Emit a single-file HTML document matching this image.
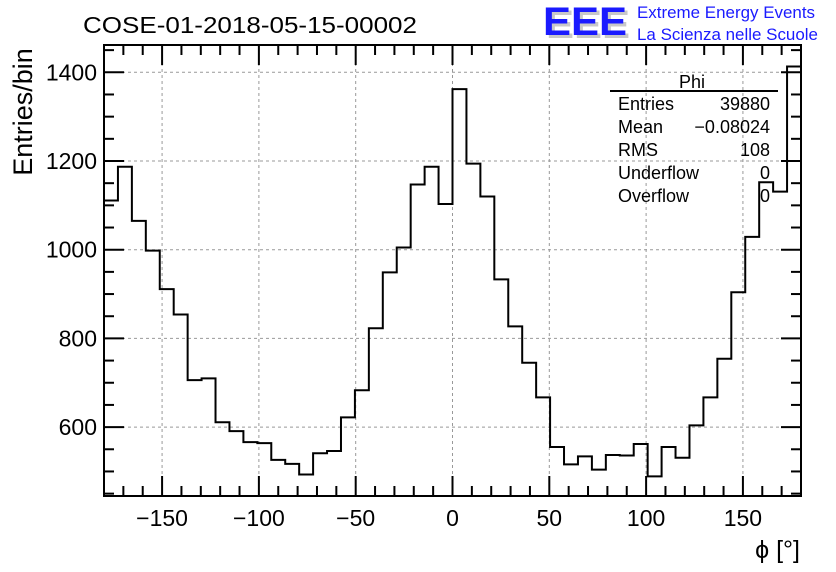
<!DOCTYPE html>
<html><head><meta charset="utf-8">
<style>
html,body{margin:0;padding:0;background:#fff;}
svg{display:block;font-family:"Liberation Sans",sans-serif;}
</style></head>
<body>
<svg id="chart" width="836" height="572" viewBox="0 0 836 572" xmlns="http://www.w3.org/2000/svg">
<rect x="0" y="0" width="836" height="572" fill="#fff"/>
<text x="83" y="33" font-size="23" fill="#000" textLength="334" lengthAdjust="spacingAndGlyphs">COSE-01-2018-05-15-00002</text>
<g>
<text x="546" y="38" font-size="40" font-weight="bold" fill="#c8c8c8" textLength="84" lengthAdjust="spacingAndGlyphs">EEE</text>
<text x="543" y="35" font-size="40" font-weight="bold" fill="#1a1aff" textLength="84" lengthAdjust="spacingAndGlyphs">EEE</text>
<text x="637" y="18" font-size="16.5" fill="#1a1aff" textLength="178" lengthAdjust="spacingAndGlyphs">Extreme Energy Events</text>
<text x="637" y="40" font-size="16.5" fill="#1a1aff" textLength="181" lengthAdjust="spacingAndGlyphs">La Scienza nelle Scuole</text>
</g>
<g id="grid"></g>
<g id="ticks"></g>
<g id="labels"></g>
<path id="hist" fill="none" stroke="#000" stroke-width="2"/>
<rect x="104" y="45" width="697" height="451" fill="none" stroke="#000" stroke-width="2"/>
<g>
<text x="692" y="88" font-size="18" text-anchor="middle">Phi</text>
<line x1="610" y1="91" x2="778" y2="91" stroke="#000" stroke-width="2"/>
<text x="618" y="110" font-size="18">Entries</text>
<text x="770" y="110" font-size="18" text-anchor="end">39880</text>
<text x="618" y="133" font-size="18">Mean</text>
<text x="770" y="133" font-size="18" text-anchor="end">−0.08024</text>
<text x="618" y="156" font-size="18">RMS</text>
<text x="770" y="156" font-size="18" text-anchor="end">108</text>
<text x="618" y="179" font-size="18">Underflow</text>
<text x="770" y="179" font-size="18" text-anchor="end">0</text>
<text x="618" y="202" font-size="18">Overflow</text>
<text x="770" y="202" font-size="18" text-anchor="end">0</text>
</g>
<text transform="translate(32,112) rotate(-90)" font-size="27" text-anchor="middle">Entries/bin</text>
<text x="800" y="558" font-size="25" text-anchor="end">ϕ [°]</text>
</svg>
<script>
const binValues = [1111,1187,1065,998,911,854,706,710,611,591,566,564,526,517,493,541,546,622,683,823,949,1005,1147,1187,1103,
1362,1194,1120,933,827,745,667,555,516,534,504,537,536,562,489,555,531,604,667,754,904,1029,1152,1131,1413];
const xMin = -180, xMax = 180;
const xTickValues = [-150,-100,-50,0,50,100,150];
const xTickLabels = ["−150","−100","−50","0","50","100","150"];
const yTickValues = [600,800,1000,1200,1400];
const yTickLabels = ["600","800","1000","1200","1400"];

const L=104,R=801,T=45,B=496;
const xs = v => L + (v - xMin) / (xMax - xMin) * (R - L);
const ys = v => 72.3 + (1400 - v) * 0.4435;
const NS="http://www.w3.org/2000/svg";
function mk(tag, attrs, parent){const e=document.createElementNS(NS,tag);for(const k in attrs)e.setAttribute(k,attrs[k]);parent.appendChild(e);return e;}
const grid=document.getElementById('grid'), ticks=document.getElementById('ticks'), labels=document.getElementById('labels');

xTickValues.forEach((v,i)=>{
  const x=xs(v);
  const g=mk('line',{x1:x,y1:T,x2:x,y2:B,stroke:'#999','stroke-width':1,'stroke-dasharray':'3,3'},grid);
  
  
  const t=mk('text',{x:x,y:526,'font-size':23,'text-anchor':'middle'},labels);
  t.textContent=xTickLabels[i];
  
  
});
yTickValues.forEach((v,i)=>{
  const y=ys(v);
  const g=mk('line',{x1:L,y1:y,x2:R,y2:y,stroke:'#999','stroke-width':1,'stroke-dasharray':'3,3'},grid);
  
  
  const t=mk('text',{x:97,y:y+8,'font-size':23,'text-anchor':'end'},labels);
  t.textContent=yTickLabels[i];
  
  
});
for(let v=-180; v<=180; v+=10){
  const x=xs(v), len=(v%50===0)?20:10;
  mk('line',{x1:x,y1:B,x2:x,y2:B-len,stroke:'#000','stroke-width':2},ticks);
  mk('line',{x1:x,y1:T,x2:x,y2:T+len,stroke:'#000','stroke-width':2},ticks);
}
for(let v=450; v<=1450; v+=50){
  const y=ys(v); if(y<T||y>B) continue;
  const len=(v%200===0)?20:10;
  mk('line',{x1:L,y1:y,x2:L+len,y2:y,stroke:'#000','stroke-width':2},ticks);
  mk('line',{x1:R,y1:y,x2:R-len,y2:y,stroke:'#000','stroke-width':2},ticks);
}
const n=binValues.length, w=(xMax-xMin)/n;
let d='';
binValues.forEach((v,i)=>{
  const x0=xs(xMin+i*w), x1=xs(xMin+(i+1)*w), y=ys(v);
  d += (i===0?`M${x0},${y}`:`L${x0},${y}`) + `L${x1},${y}`;
});
document.getElementById('hist').setAttribute('d',d);
</script>
</body></html>
